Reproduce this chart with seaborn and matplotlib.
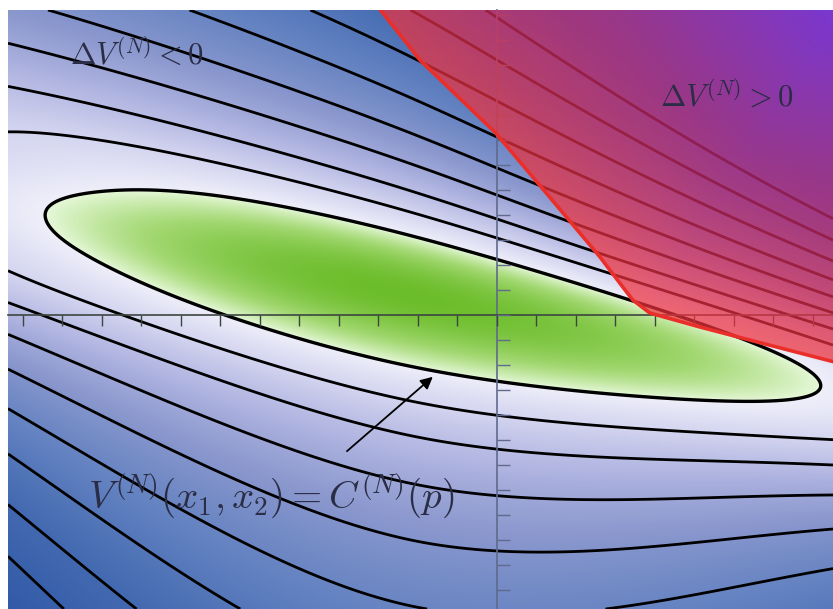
import numpy as np
import matplotlib
matplotlib.use("Agg")
import matplotlib.pyplot as plt
from matplotlib.path import Path
import seaborn as sns

sns.set_theme(style="white")
plt.rcParams["mathtext.fontset"] = "cm"
plt.rcParams["font.family"] = ["DejaVu Sans"]

# visible window of the state plane (x1, x2)
x1_range = [-12.38, 8.51]
x2_range = [-11.76, 12.2]

# tick positions on the two state axes
x1_ticks = list(range(-12, 9))
x2_ticks = list(range(-11, 13))

# parameters of the Lyapunov candidate V^(N)
v_center = [-2.5, 0.89]
main_slope = -0.347
half_length = [8.94, 10.7]      # toward -x1 and toward +x1
half_width = 2.62
skew_up = 0.25
taper = 0.03
stretch_left = 0.6              # outer levels reach further toward -x1
squeeze_right = 0.15            # outer levels close sooner toward +x1
up_growth = [0.04, 0.0013]      # tightening of levels above the valley
down_growth = [-0.012, 0.00388]  # tightening of levels below the valley
blend_scale = 3.0
level_c = 1.0                   # C^(N)(p)
color_top = 60.0                # V value shown in the deepest blue

# where the drawn level curves cut the positive x2 axis ...
x2_axis_crossings = [3.08, 3.84, 4.8, 5.88, 7.12, 8.56, 10.2, 11.9]
# ... and where the outermost ones cut the left edge
left_edge_crossings = [-4.88, -7.4, -9.92]

# boundary of the region where Delta V^(N) > 0
dv_boundary_x1 = [-3.0, -1.95, -0.03, 2.1, 2.61, 3.11, 3.44, 3.87, 5.14, 6.4, 7.67, 8.6]
dv_boundary_x2 = [12.3, 10.2, 7.28, 3.28, 2.32, 1.28, 0.6, 0.08, -0.48, -1.0, -1.52, -1.9]


def lyapunov(x1, x2):
    u = x1 - v_center[0]
    w0 = x2 - v_center[1] - main_slope * u
    blend = w0 ** 2 / (w0 ** 2 + blend_scale ** 2)
    growth = np.where(w0 > 0, up_growth[0] * u + up_growth[1] * u ** 2,
                      down_growth[0] * u + down_growth[1] * u ** 2)
    w = w0 * np.exp(blend * growth)
    a = np.where(u < 0, half_length[0], half_length[1])
    qu2 = (u / a) ** 2
    qw2 = (w / half_width * (1 + skew_up * np.tanh(w / (3 * half_width)))) ** 2
    h = np.where(u < 0, 1.0 / (1 + stretch_left * qw2 ** 3 / (1 + qw2 ** 2)),
                 1 + squeeze_right * qw2)
    g = 1 + taper * np.logaddexp(0, u)
    return qu2 * h + g * qw2


W_PX, H_PX = 833, 609
fig = plt.figure(figsize=(W_PX / 100, H_PX / 100), dpi=100)
ax_left, ax_top = 8, 10
ax = fig.add_axes([ax_left / W_PX, 0, (W_PX - ax_left) / W_PX, (H_PX - ax_top) / H_PX])
ax.set_xlim(*x1_range)
ax.set_ylim(*x2_range)
ax.grid(False)

gx = np.linspace(x1_range[0], x1_range[1], 900)
gy = np.linspace(x2_range[0], x2_range[1], 660)
X, Y = np.meshgrid(gx, gy)
V = lyapunov(X, Y)

# shaded surface: green inside V < C, lavender to blue outside
green = sns.blend_palette(["#6cbd2b", "#a3d872", "#e6f8d9"], as_cmap=True)
blue = sns.blend_palette(["#efeffa", "#d5d6f0", "#b3b7e2", "#8b98ce", "#6382c1",
                          "#4269b0", "#3058a6"], as_cmap=True)
inside = V < level_c
t_out = np.clip(np.log(np.maximum(V, level_c) / level_c) / np.log(color_top / level_c), 0, 1)
rgb = np.where(inside[..., None], green(np.clip(V / level_c, 0, 1))[..., :3], blue(t_out)[..., :3])
extent = x1_range + x2_range
ax.imshow(rgb, extent=extent, origin="lower", aspect="auto", interpolation="bilinear", zorder=0)

axis_levels = lyapunov(np.zeros(len(x2_axis_crossings)), np.array(x2_axis_crossings))
edge_levels = lyapunov(np.full(len(left_edge_crossings), x1_range[0]), np.array(left_edge_crossings))
levels = np.sort(np.r_[axis_levels, edge_levels[edge_levels > 1.15 * axis_levels.max()]])
ax.contour(X, Y, V, levels=levels, colors="black", linewidths=2.0, zorder=2)
ax.contour(X, Y, V, levels=[level_c], colors="black", linewidths=2.4, zorder=2)

# translucent overlay for Delta V^(N) > 0
sx = (W_PX - ax_left) / (x1_range[1] - x1_range[0])
sy = (H_PX - ax_top) / (x2_range[1] - x2_range[0])
bx = np.array(dv_boundary_x1)
by = np.array(dv_boundary_x2)
pts = np.column_stack([X.ravel(), Y.ravel()])
pp = pts * [sx, sy]
dmin = np.full(len(pts), np.inf)
for i in range(len(bx) - 1):
    a = np.array([bx[i] * sx, by[i] * sy])
    b = np.array([bx[i + 1] * sx, by[i + 1] * sy])
    ab = b - a
    t = np.clip(((pp - a) @ ab) / (ab @ ab), 0, 1)
    d = np.hypot(*(pp - (a + t[:, None] * ab)).T)
    dmin = np.minimum(dmin, d)
poly = np.column_stack([np.r_[bx, 9.0, 9.0], np.r_[by, by[-1], 12.5]])
mask = Path(poly).contains_points(pts).reshape(X.shape)
red_violet = sns.blend_palette(["#f0323c", "#c42a7c", "#9a2cdc"], as_cmap=True)
rgba = red_violet(np.clip(dmin / 330.0, 0, 1)).reshape(X.shape + (4,))
rgba[..., 3] = np.where(mask, 0.72, 0.0)
ax.imshow(rgba, extent=extent, origin="lower", aspect="auto", interpolation="nearest", zorder=3)
ax.plot(bx, by, color="#ea2f2a", lw=2.6, solid_capstyle="round", zorder=3.5)

# state axes through the origin
for side in ("top", "right"):
    ax.spines[side].set_visible(False)
ax.spines["bottom"].set_position(("data", 0))
ax.spines["left"].set_position(("data", 0))
ax.spines["bottom"].set_color("#3c4640")
ax.spines["left"].set_color("#5f6a8c")
ax.spines["bottom"].set_linewidth(1.2)
ax.spines["left"].set_linewidth(1.2)
ax.set_xticks(x1_ticks)
ax.set_yticks(x2_ticks)
ax.tick_params(axis="x", bottom=True, direction="out", length=8, width=1.0,
               color="#3c4640", labelbottom=False)
ax.tick_params(axis="y", left=True, direction="in", length=9.4, width=1.0,
               color="#5f6a8c", labelleft=False)
ax.xaxis.set_zorder(2.5)
ax.yaxis.set_zorder(2.5)

txt = "#2a2d45"
ax.text(-10.81, 10.0, r"$\Delta V^{(N)} < 0$", fontsize=22, color=txt, zorder=5)
ax.text(4.13, 8.36, r"$\Delta V^{(N)} > 0$", fontsize=22, color=txt, zorder=5)
ax.text(-10.35, -7.72, r"$V^{(N)}(x_1, x_2) = C^{(N)}(p)$", fontsize=28, color=txt, zorder=5)
ax.annotate("", xy=(-1.57, -2.4), xytext=(-3.85, -5.52),
            arrowprops=dict(arrowstyle="-|>", color="black", lw=1.3, mutation_scale=18),
            zorder=5)

fig.savefig("out.png", dpi=100)
